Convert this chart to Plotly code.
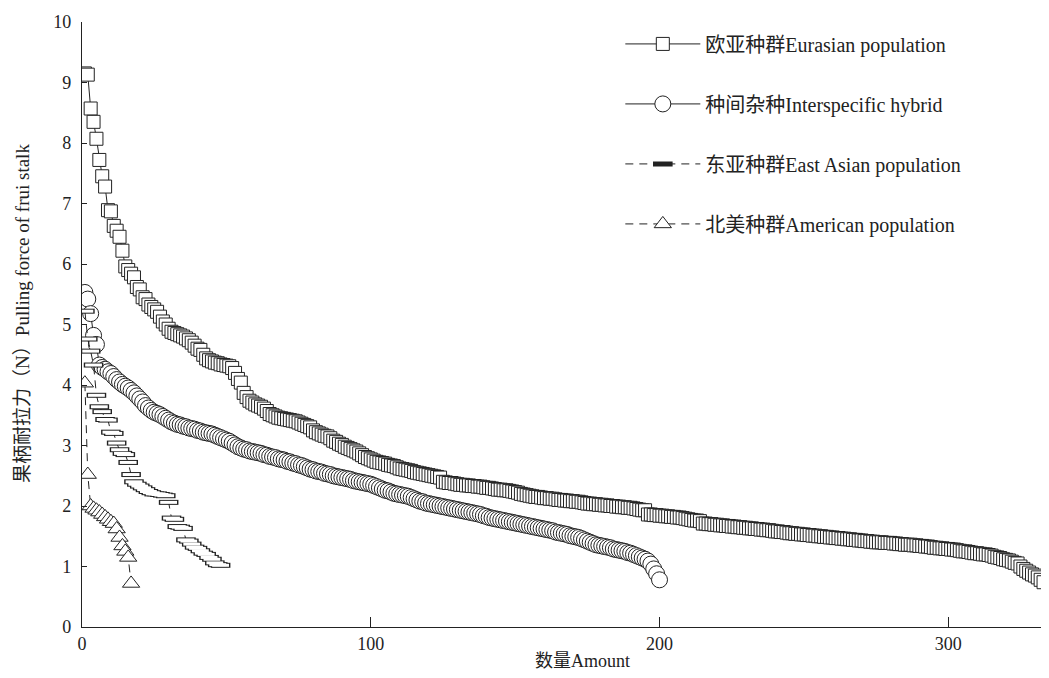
import plotly.graph_objects as go

# ---------------- data ----------------
eurasian = [
    9.15, 9.13, 8.57, 8.35, 8.07, 7.72, 7.45, 7.28, 6.89, 6.87,
    6.63, 6.55, 6.45, 6.22, 5.96, 5.90, 5.84, 5.78, 5.62, 5.58,
    5.45, 5.42, 5.33, 5.29, 5.25, 5.21, 5.13, 5.05, 5.00, 4.93,
    4.88, 4.86, 4.84, 4.82, 4.80, 4.77, 4.74, 4.70, 4.65, 4.60,
    4.58, 4.50, 4.44, 4.41, 4.39, 4.37, 4.36, 4.34, 4.33, 4.32,
    4.31, 4.28, 4.20, 4.10, 4.04, 3.87, 3.80, 3.74, 3.71, 3.68,
    3.66, 3.64, 3.61, 3.57, 3.52, 3.50, 3.48, 3.46, 3.45, 3.44,
    3.43, 3.42, 3.41, 3.40, 3.38, 3.36, 3.34, 3.32, 3.30, 3.25,
    3.22, 3.20, 3.18, 3.16, 3.15, 3.12, 3.08, 3.06, 3.03, 3.01,
    2.98, 2.96, 2.94, 2.92, 2.90, 2.87, 2.84, 2.81, 2.79, 2.77,
    2.75, 2.73, 2.72, 2.71, 2.70, 2.68, 2.67, 2.66, 2.64, 2.62,
    2.61, 2.60, 2.59, 2.58, 2.56, 2.55, 2.54, 2.53, 2.52, 2.51,
    2.50, 2.49, 2.48, 2.47, 2.40, 2.39, 2.38, 2.38, 2.37, 2.36,
    2.35, 2.35, 2.34, 2.34, 2.33, 2.33, 2.32, 2.32, 2.31, 2.30,
    2.30, 2.29, 2.28, 2.27, 2.27, 2.26, 2.26, 2.25, 2.24, 2.23,
    2.22, 2.20, 2.19, 2.18, 2.17, 2.16, 2.15, 2.15, 2.14, 2.13,
    2.13, 2.12, 2.12, 2.11, 2.10, 2.10, 2.09, 2.09, 2.08, 2.08,
    2.07, 2.07, 2.06, 2.05, 2.04, 2.04, 2.03, 2.03, 2.02, 2.02,
    2.01, 2.01, 2.00, 2.00, 1.99, 1.99, 1.98, 1.98, 1.97, 1.97,
    1.96, 1.95, 1.94, 1.93, 1.93, 1.86, 1.86, 1.85, 1.85, 1.84,
    1.84, 1.83, 1.83, 1.82, 1.82, 1.81, 1.81, 1.80, 1.79, 1.78,
    1.77, 1.76, 1.76, 1.75, 1.71, 1.71, 1.70, 1.70, 1.69, 1.69,
    1.68, 1.68, 1.67, 1.67, 1.66, 1.66, 1.65, 1.65, 1.64, 1.64,
    1.63, 1.63, 1.62, 1.62, 1.61, 1.61, 1.60, 1.60, 1.59, 1.58,
    1.58, 1.57, 1.57, 1.56, 1.55, 1.55, 1.54, 1.54, 1.53, 1.53,
    1.52, 1.52, 1.51, 1.51, 1.50, 1.50, 1.49, 1.49, 1.48, 1.48,
    1.47, 1.47, 1.46, 1.46, 1.45, 1.45, 1.44, 1.44, 1.43, 1.43,
    1.42, 1.42, 1.41, 1.41, 1.40, 1.40, 1.40, 1.39, 1.39, 1.39,
    1.38, 1.38, 1.37, 1.37, 1.36, 1.36, 1.36, 1.35, 1.35, 1.34,
    1.34, 1.33, 1.33, 1.32, 1.31, 1.31, 1.30, 1.30, 1.29, 1.29,
    1.28, 1.28, 1.27, 1.26, 1.25, 1.25, 1.24, 1.23, 1.22, 1.22,
    1.21, 1.20, 1.20, 1.19, 1.18, 1.16, 1.15, 1.14, 1.12, 1.11,
    1.10, 1.08, 1.06, 1.05, 1.00, 0.96, 0.93, 0.90, 0.87, 0.85,
    0.82, 0.78, 0.74,
]

interspecific = [
    5.53, 5.42, 5.18, 4.82, 4.67, 4.33, 4.29, 4.26, 4.22, 4.19,
    4.14, 4.09, 4.05, 4.01, 3.98, 3.95, 3.91, 3.87, 3.82, 3.77,
    3.72, 3.66, 3.62, 3.58, 3.55, 3.53, 3.51, 3.48, 3.45, 3.42,
    3.39, 3.37, 3.35, 3.34, 3.32, 3.31, 3.29, 3.28, 3.27, 3.25,
    3.24, 3.22, 3.21, 3.20, 3.19, 3.17, 3.15, 3.13, 3.11, 3.09,
    3.07, 3.04, 3.01, 2.98, 2.96, 2.94, 2.93, 2.91, 2.90, 2.89,
    2.88, 2.87, 2.85, 2.84, 2.82, 2.81, 2.80, 2.78, 2.77, 2.76,
    2.74, 2.73, 2.71, 2.70, 2.68, 2.67, 2.65, 2.63, 2.61, 2.60,
    2.58, 2.57, 2.56, 2.54, 2.53, 2.52, 2.50, 2.49, 2.48, 2.47,
    2.46, 2.45, 2.44, 2.42, 2.41, 2.40, 2.39, 2.38, 2.37, 2.36,
    2.34, 2.32, 2.30, 2.28, 2.26, 2.25, 2.23, 2.21, 2.20, 2.19,
    2.18, 2.17, 2.16, 2.14, 2.12, 2.10, 2.08, 2.07, 2.05, 2.04,
    2.03, 2.02, 2.01, 2.00, 1.99, 1.98, 1.97, 1.96, 1.95, 1.94,
    1.93, 1.92, 1.91, 1.90, 1.89, 1.88, 1.87, 1.86, 1.84, 1.83,
    1.81, 1.80, 1.79, 1.78, 1.77, 1.76, 1.75, 1.74, 1.73, 1.72,
    1.71, 1.70, 1.69, 1.68, 1.67, 1.66, 1.65, 1.64, 1.63, 1.62,
    1.61, 1.60, 1.59, 1.57, 1.56, 1.55, 1.54, 1.53, 1.51, 1.50,
    1.49, 1.48, 1.46, 1.44, 1.42, 1.40, 1.38, 1.36, 1.35, 1.34,
    1.33, 1.32, 1.31, 1.29, 1.28, 1.27, 1.26, 1.25, 1.23, 1.22,
    1.20, 1.18, 1.16, 1.14, 1.12, 1.09, 1.04, 0.96, 0.88, 0.78,
]

east_asian = [
    5.22, 4.76, 4.56, 4.33, 3.83, 3.64, 3.56, 3.43, 3.42, 3.22,
    3.20, 3.04, 2.93, 2.87, 2.85, 2.72, 2.52, 2.40, 2.36, 2.33,
    2.30, 2.27, 2.24, 2.22, 2.20, 2.20, 2.19, 2.18, 2.17, 2.06,
    1.80, 1.78, 1.66, 1.65, 1.63, 1.44, 1.42, 1.37, 1.32, 1.30,
    1.26, 1.22, 1.20, 1.15, 1.12, 1.06, 1.03, 1.02,
]

american = [
    4.03, 2.52, 2.00, 1.96, 1.93, 1.90, 1.86, 1.82, 1.78, 1.74,
    1.71, 1.62, 1.48, 1.34, 1.25, 1.15, 0.72,
]

names = [
    "欧亚种群Eurasian population",
    "种间杂种Interspecific hybrid",
    "东亚种群East Asian population",
    "北美种群American population",
]

x_ticks = [0, 100, 200, 300]
y_ticks = list(range(0, 11))

x_title = "数量Amount"
y_title = "果柄耐拉力（N）Pulling force of frui stalk"

# ---------------- figure ----------------
INK = "#222222"
FONT = "Liberation Serif, Noto Sans CJK SC, serif"


def idx(values):
    return list(range(1, len(values) + 1))


fig = go.Figure()

fig.add_trace(go.Scatter(
    x=idx(eurasian), y=eurasian, name=names[0], mode="lines+markers",
    legendgroup="g1",
    line=dict(color=INK, width=1),
    marker=dict(symbol="square", size=13, color="white",
                line=dict(color=INK, width=1)),
))

fig.add_trace(go.Scatter(
    x=idx(interspecific), y=interspecific, name=names[1], mode="lines+markers",
    legendgroup="g2",
    line=dict(color=INK, width=1),
    marker=dict(symbol="circle", size=16, color="white",
                line=dict(color=INK, width=1)),
))

# East Asian: flat hollow rectangles (black bar with white core)
fig.add_trace(go.Scatter(
    x=idx(east_asian), y=east_asian, name=names[2], mode="lines+markers",
    legendgroup="g3",
    line=dict(color=INK, width=1, dash="8px,6px"),
    marker=dict(symbol="line-ew", size=14, color=INK,
                line=dict(color=INK, width=5)),
))
fig.add_trace(go.Scatter(
    x=idx(east_asian), y=east_asian, name=names[2], mode="markers",
    legendgroup="g3", showlegend=False, hoverinfo="skip",
    marker=dict(symbol="line-ew", size=12, color="white",
                line=dict(color="white", width=3)),
))

fig.add_trace(go.Scatter(
    x=idx(american), y=american, name=names[3], mode="lines+markers",
    legendgroup="g4",
    line=dict(color=INK, width=1, dash="8px,6px"),
    marker=dict(symbol="triangle-up", size=15, color="white",
                line=dict(color=INK, width=1)),
))

# page body has an 8px margin: the figure is sized/offset to compensate
fig.update_layout(
    width=1041, height=670,
    margin=dict(l=74, r=4, t=7, b=51),
    paper_bgcolor="white", plot_bgcolor="white",
    font=dict(family=FONT, size=18, color=INK),
    showlegend=True,
    legend=dict(
        x=0.559, y=0.996, xanchor="left", yanchor="top",
        bgcolor="rgba(0,0,0,0)", borderwidth=0,
        traceorder="grouped", tracegroupgap=31,
        font=dict(family=FONT, size=20, color=INK),
        itemwidth=75,
    ),
    annotations=[
        dict(text=x_title, xref="paper", yref="paper", x=0.52, y=-0.057,
             xanchor="center", yanchor="middle", showarrow=False,
             font=dict(family=FONT, size=18, color=INK)),
        dict(text=y_title, xref="paper", yref="paper", x=-0.062, y=0.518,
             xanchor="center", yanchor="middle", showarrow=False, textangle=-90,
             font=dict(family=FONT, size=19, color=INK)),
    ],
)

fig.update_xaxes(
    range=[0, 333.5], tickvals=x_ticks, ticktext=[str(v) for v in x_ticks],
    ticks="inside", ticklen=10, tickwidth=1, tickcolor=INK,
    showline=True, linecolor=INK, linewidth=1.3,
    showgrid=False, zeroline=False, mirror=False,
    tickfont=dict(family=FONT, size=18, color=INK),
    ticklabeloverflow="allow",
)
fig.update_yaxes(
    range=[0, 10], tickvals=y_ticks, ticktext=[str(v) for v in y_ticks],
    ticks="inside", ticklen=5, tickwidth=1, tickcolor=INK,
    showline=True, linecolor=INK, linewidth=1.3,
    showgrid=False, zeroline=False, mirror=False,
    tickfont=dict(family=FONT, size=18, color=INK),
    ticklabelstandoff=6, ticklabeloverflow="allow",
)

fig.write_html("out.html")
